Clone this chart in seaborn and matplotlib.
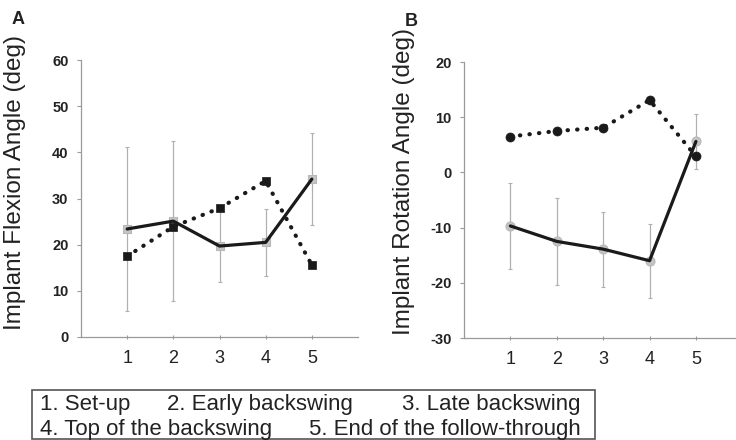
import numpy as np
import pandas as pd
import matplotlib
matplotlib.use("Agg")
import matplotlib.pyplot as plt
import seaborn as sns
from matplotlib.patches import Rectangle

# ---- data ----
phases = [1, 2, 3, 4, 5]
phase_labels = ["1", "2", "3", "4", "5"]

flex_solid = [23.4, 25.1, 19.7, 20.5, 34.2]
flex_solid_err = [17.7, 17.4, 7.7, 7.2, 10.0]
flex_dotted = [17.5, 23.9, 27.9, 33.8, 15.6]

rot_solid = [-9.7, -12.5, -13.9, -16.0, 5.6]
rot_solid_err = [7.8, 7.9, 6.8, 6.7, 5.0]
rot_dotted = [6.5, 7.5, 8.1, 13.1, 2.9]

flex_ticks = [0, 10, 20, 30, 40, 50, 60]
rot_ticks = [-30, -20, -10, 0, 10, 20]

legend_line1 = ["1. Set-up", "2. Early backswing", "3. Late backswing"]
legend_line2 = ["4. Top of the backswing", "5. End of the follow-through"]

sns.set_style("ticks")
plt.rcParams["font.family"] = ["Liberation Sans", "DejaVu Sans"]

W, H = 736, 440
fig = plt.figure(figsize=(7.36, 4.4), dpi=100)
axA = fig.add_axes([81 / W, 1 - 337 / H, 277 / W, 277 / H])
axB = fig.add_axes([464 / W, 1 - 338 / H, 276 / W, 276 / H])

grey = "#9a9a9a"
dark = "#1a1a1a"
txt = "#222222"


def panel(ax, solid, err, dotted, marker, msize, ylim, yticks, ylabel, lab_x, lab_y):
    ax.errorbar(phases, solid, yerr=err, fmt="none", ecolor="#b0b0b0",
                elinewidth=0.9, capsize=1.5, capthick=0.8, zorder=1)
    df_s = pd.DataFrame({"x": phases, "y": solid})
    df_d = pd.DataFrame({"x": phases, "y": dotted})
    # grey markers of the solid series sit behind its line
    sns.scatterplot(data=df_s, x="x", y="y", ax=ax, marker=marker, s=msize ** 2,
                    color="#c4c4c4", edgecolor="#b8b8b8", linewidth=0.8, zorder=2)
    sns.lineplot(data=df_s, x="x", y="y", ax=ax, color=dark, lw=2.3, zorder=3)
    sns.lineplot(data=df_d, x="x", y="y", ax=ax, color=dark, lw=3.0,
                 linestyle=(0, (0.1, 2.2)), dash_capstyle="round", zorder=4)
    sns.scatterplot(data=df_d, x="x", y="y", ax=ax, marker=marker, s=msize ** 2,
                    color=dark, edgecolor=dark, linewidth=0.5, zorder=5)
    ax.set_xlim(0, 6)
    ax.set_ylim(*ylim)
    ax.set_yticks(yticks)
    ax.set_yticklabels([str(t) for t in yticks], fontweight="bold", fontsize=10.5,
                       color=txt)
    ax.set_xticks(phases)
    ax.set_xticklabels(phase_labels, fontsize=13, color=txt)
    ax.set_xlabel("")
    ax.set_ylabel(ylabel, fontsize=17.5, color=txt, va="center")
    ax.yaxis.set_label_coords(lab_x, lab_y)
    sns.despine(ax=ax)
    for s in ["left", "bottom"]:
        ax.spines[s].set_color(grey)
        ax.spines[s].set_linewidth(0.9)
    ax.tick_params(axis="y", length=3, width=0.8, color=grey, pad=6)
    ax.tick_params(axis="x", length=3, width=0.8, color=grey, direction="inout", pad=8)


panel(axA, flex_solid, flex_solid_err, flex_dotted, "s", 6.0, (0, 60), flex_ticks,
      "Implant Flexion Angle (deg)", (15 - 81) / 277, 0.558)
panel(axB, rot_solid, rot_solid_err, rot_dotted, "o", 6.5, (-30, 20), rot_ticks,
      "Implant Rotation Angle (deg)", (404 - 464) / 276, 0.567)
axB.set_xlim(0, 5.95)

fig.text(12 / W, 1 - 20 / H, "A", fontsize=13, fontweight="bold", va="center", ha="left",
         color=txt)
fig.text(405 / W, 1 - 21 / H, "B", fontsize=13, fontweight="bold", va="center", ha="left",
         color=txt)

# legend box
fig.patches.append(Rectangle((32 / W, 1 - 439 / H), (595 - 32) / W, (439 - 390) / H,
                             transform=fig.transFigure, fill=False, edgecolor="#555555",
                             linewidth=1.2))
fs = 16
y1 = 1 - 410 / H
y2 = 1 - 435 / H
fig.text(40 / W, y1, legend_line1[0], fontsize=fs, ha="left", va="baseline", color=txt)
fig.text(167 / W, y1, legend_line1[1], fontsize=fs, ha="left", va="baseline", color=txt)
fig.text(581 / W, y1, legend_line1[2], fontsize=fs, ha="right", va="baseline", color=txt)
fig.text(40 / W, y2, legend_line2[0], fontsize=fs, ha="left", va="baseline", color=txt)
fig.text(581 / W, y2, legend_line2[1], fontsize=fs, ha="right", va="baseline", color=txt)

fig.savefig("out.png", dpi=100)
